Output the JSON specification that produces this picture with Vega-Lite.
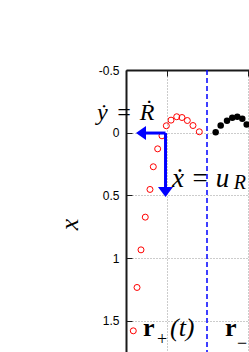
{
  "$schema": "https://vega.github.io/schema/vega-lite/v6.json",
  "width": 123,
  "height": 282,
  "autosize": {"type": "none"},
  "padding": {"left": 126, "top": 70, "right": 0, "bottom": 0},
  "background": "white",
  "config": {"view": {"stroke": null}},
  "datasets": {
    "pts": [
      {"series": "plus", "h": -0.41, "v": 1.581},
      {"series": "plus", "h": -0.364, "v": 1.235},
      {"series": "plus", "h": -0.315, "v": 0.935},
      {"series": "plus", "h": -0.262, "v": 0.674},
      {"series": "plus", "h": -0.204, "v": 0.453},
      {"series": "plus", "h": -0.163, "v": 0.272},
      {"series": "plus", "h": -0.109, "v": 0.129},
      {"series": "plus", "h": -0.056, "v": 0.025},
      {"series": "plus", "h": -0.002, "v": -0.055},
      {"series": "plus", "h": 0.056, "v": -0.1},
      {"series": "plus", "h": 0.126, "v": -0.127},
      {"series": "plus", "h": 0.191, "v": -0.121},
      {"series": "plus", "h": 0.257, "v": -0.097},
      {"series": "plus", "h": 0.327, "v": -0.057},
      {"series": "plus", "h": 0.405, "v": -0.007},
      {"series": "minus", "h": 0.607, "v": -0.004},
      {"series": "minus", "h": 0.669, "v": -0.057},
      {"series": "minus", "h": 0.747, "v": -0.095},
      {"series": "minus", "h": 0.812, "v": -0.119},
      {"series": "minus", "h": 0.874, "v": -0.127},
      {"series": "minus", "h": 0.936, "v": -0.111},
      {"series": "minus", "h": 0.99, "v": -0.065}
    ]
  },
  "encoding": {
    "x": {
      "field": "h", "type": "quantitative",
      "scale": {"domain": [-0.5, 1.0185], "nice": false, "zero": false},
      "axis": {
        "orient": "top", "values": [0, 1], "labels": false, "title": null,
        "grid": true, "gridDash": [1, 2], "gridColor": "#999999", "gridWidth": 1,
        "domainColor": "#1a1a1a", "domainWidth": 2,
        "tickColor": "#1a1a1a", "tickSize": -6, "tickWidth": 1
      }
    },
    "y": {
      "field": "v", "type": "quantitative",
      "scale": {"domain": [-0.5, 1.75], "nice": false, "zero": false, "reverse": true},
      "axis": {
        "values": [-0.5, 0, 0.5, 1, 1.5],
        "labelExpr": "'' + datum.value",
        "labelFont": "Liberation Sans", "labelFontSize": 12, "labelColor": "#000000",
        "labelPadding": 13,
        "grid": true, "gridDash": [1, 2], "gridColor": "#999999", "gridWidth": 1,
        "domainColor": "#1a1a1a", "domainWidth": 2,
        "tickColor": "#1a1a1a", "tickSize": -6, "tickWidth": 1,
        "title": "x", "titleFont": "Liberation Serif", "titleFontStyle": "italic",
        "titleFontWeight": "normal", "titleFontSize": 26, "titleColor": "#000000",
        "titleAngle": -90, "titleX": -57, "titleY": 154,
        "titleAlign": "center", "titleBaseline": "middle"
      }
    }
  },
  "layer": [
    {
      "data": {"values": [{"h": 0.5, "v1": -0.5, "v2": 1.75}]},
      "mark": {"type": "rule", "color": "#0000ff", "strokeWidth": 1.5, "strokeDash": [5, 3]},
      "encoding": {"y": {"field": "v1", "type": "quantitative"}, "y2": {"field": "v2"}}
    },
    {
      "data": {"name": "pts"},
      "transform": [{"filter": "datum.series == 'plus'"}],
      "mark": {"type": "point", "shape": "circle", "filled": false, "stroke": "#ff0000", "strokeWidth": 1, "size": 36, "opacity": 1, "clip": true}
    },
    {
      "data": {"name": "pts"},
      "transform": [{"filter": "datum.series == 'minus'"}],
      "mark": {"type": "point", "shape": "circle", "filled": true, "fill": "#000000", "size": 42, "opacity": 1, "clip": true}
    },
    {
      "data": {"values": [
        {"h": -0.012, "v": 0.003, "h2": -0.30, "v2": 0.003},
        {"h": -0.012, "v": 0.003, "h2": -0.012, "v2": 0.44}
      ]},
      "mark": {"type": "rule", "color": "#0000ff", "strokeWidth": 3},
      "encoding": {"x2": {"field": "h2"}, "y2": {"field": "v2"}}
    },
    {
      "data": {"values": [{"h": -0.315, "v": 0.003}]},
      "mark": {"type": "point", "shape": "M-1,0L1,-1.4L1,1.4Z", "filled": true, "fill": "#0000ff", "size": 100, "opacity": 1}
    },
    {
      "data": {"values": [{"h": -0.012, "v": 0.473}]},
      "mark": {"type": "point", "shape": "M0,1L-1.5,-1L1.5,-1Z", "filled": true, "fill": "#0000ff", "size": 100, "opacity": 1}
    },
    {
      "data": {"values": [{"t": "ẏ\u2004=\u2004Ṙ", "h": -0.858, "v": -0.1}]},
      "mark": {"type": "text", "font": "Liberation Serif", "fontStyle": "italic", "fontSize": 24, "align": "left", "baseline": "alphabetic", "color": "#000000"},
      "encoding": {"text": {"field": "t"}}
    },
    {
      "data": {"values": [{"t": "ẋ = u", "h": 0.068, "v": 0.43}]},
      "mark": {"type": "text", "font": "Liberation Serif", "fontStyle": "italic", "fontSize": 27, "align": "left", "baseline": "alphabetic", "color": "#000000"},
      "encoding": {"text": {"field": "t"}}
    },
    {
      "data": {"values": [{"t": "R", "h": 0.83, "v": 0.453}]},
      "mark": {"type": "text", "font": "Liberation Serif", "fontStyle": "italic", "fontSize": 20, "align": "left", "baseline": "alphabetic", "color": "#000000"},
      "encoding": {"text": {"field": "t"}}
    },
    {
      "data": {"values": [{"t": "r", "h": -0.29, "v": 1.626}, {"t": "r", "h": 0.722, "v": 1.626}]},
      "mark": {"type": "text", "font": "Liberation Serif", "fontWeight": "bold", "fontSize": 26, "align": "left", "baseline": "alphabetic", "color": "#000000"},
      "encoding": {"text": {"field": "t"}}
    },
    {
      "data": {"values": [{"t": "+", "h": -0.117, "v": 1.698}, {"t": "−", "h": 0.87, "v": 1.73}]},
      "mark": {"type": "text", "font": "Liberation Serif", "fontSize": 18, "align": "left", "baseline": "alphabetic", "color": "#000000"},
      "encoding": {"text": {"field": "t"}}
    },
    {
      "data": {"values": [{"t": "(t)", "h": 0.043, "v": 1.626}]},
      "mark": {"type": "text", "font": "Liberation Serif", "fontStyle": "italic", "fontSize": 26, "align": "left", "baseline": "alphabetic", "color": "#000000"},
      "encoding": {"text": {"field": "t"}}
    }
  ]
}
